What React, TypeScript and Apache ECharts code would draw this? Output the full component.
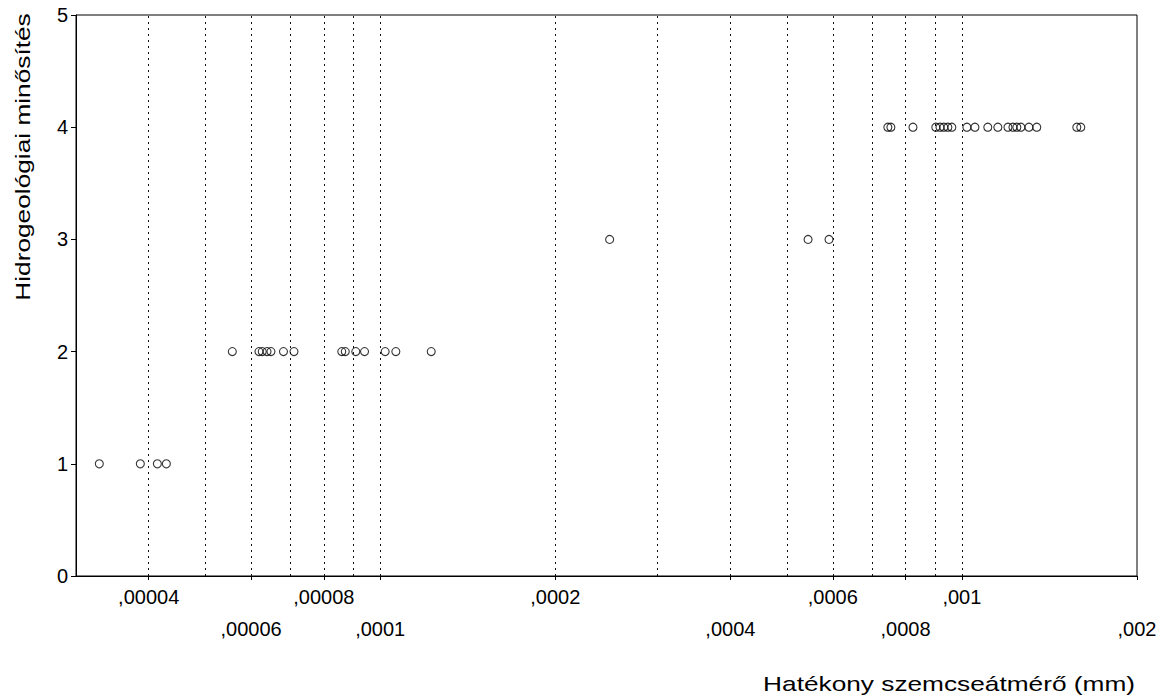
import React, { useEffect, useRef } from "react";
import * as echarts from "echarts";

const xTitle = "Hatékony szemcseátmérő (mm)";
const yTitle = "Hidrogeológiai minősítés";

// Hatékony szemcseátmérő (mm) values per rating class
const rating1 = [0.0000329, 0.0000387, 0.0000414, 0.0000429];
const rating2 = [
  0.0000557, 0.0000619, 0.0000627, 0.0000639, 0.0000649, 0.0000682, 0.0000711,
  0.0000859, 0.0000871, 0.0000908, 0.000094, 0.000102, 0.0001064, 0.0001224,
];
const rating3 = [0.000248, 0.000544, 0.000591];
const rating4 = [
  0.000746, 0.000755, 0.000824, 0.000902, 0.000917, 0.000931, 0.000946, 0.000961,
  0.00102, 0.001053, 0.001108, 0.001153, 0.0012, 0.001224, 0.001243, 0.001263,
  0.001304, 0.001345, 0.001576, 0.001601,
];

const upperTickValues = [0.00004, 0.00008, 0.0002, 0.0006, 0.001];
const upperTickLabels = [",00004", ",00008", ",0002", ",0006", ",001"];
const lowerTickValues = [0.00006, 0.0001, 0.0004, 0.0008, 0.002];
const lowerTickLabels = [",00006", ",0001", ",0004", ",0008", ",002"];
const gridLineValues = [
  0.00004, 0.00005, 0.00006, 0.00007, 0.00008, 0.00009, 0.0001,
  0.0002, 0.0003, 0.0004, 0.0005, 0.0006, 0.0007, 0.0008, 0.0009, 0.001,
];
const xMin = 0.00003;
const xMax = 0.002;
const yMin = 0;
const yMax = 5;

const FONT = "'Liberation Sans', Arial, sans-serif";

function lookup(values: number[], labels: string[], v: number): string {
  for (let i = 0; i < values.length; i++) {
    if (Math.abs(v - values[i]) / values[i] < 1e-4) return labels[i];
  }
  return "";
}

export default function App() {
  const ref = useRef<HTMLDivElement>(null);
  useEffect(() => {
    if (!ref.current) return;
    const chart = echarts.init(ref.current, undefined, { renderer: "svg" });
    const data: number[][] = [];
    rating1.forEach((v) => data.push([v, 1]));
    rating2.forEach((v) => data.push([v, 2]));
    rating3.forEach((v) => data.push([v, 3]));
    rating4.forEach((v) => data.push([v, 4]));

    const allTicks = [...upperTickValues, ...lowerTickValues].sort((a, b) => a - b);

    chart.setOption({
      animation: false,
      backgroundColor: "#fff",
      grid: {
        left: 76,
        right: 23,
        top: 15,
        bottom: 122,
        show: true,
        borderColor: "#000",
        borderWidth: 1,
        backgroundColor: "transparent",
      },
      xAxis: [
        {
          type: "log",
          logBase: 10,
          min: xMin,
          max: xMax,
          axisLine: { show: true, lineStyle: { color: "#000", width: 1 } },
          axisTick: {
            show: true,
            length: 4,
            customValues: allTicks,
            lineStyle: { color: "#000", width: 1 },
          },
          splitLine: { show: false },
          minorTick: { show: false },
          axisLabel: {
            show: true,
            customValues: upperTickValues,
            formatter: (v: number) => lookup(upperTickValues, upperTickLabels, v),
            color: "#000",
            fontSize: 20,
            fontFamily: FONT,
            margin: 11,
          },
        },
        {
          type: "log",
          logBase: 10,
          min: xMin,
          max: xMax,
          position: "bottom",
          axisLine: { show: false },
          axisTick: { show: false },
          splitLine: { show: false },
          axisLabel: {
            show: true,
            customValues: lowerTickValues,
            formatter: (v: number) => lookup(lowerTickValues, lowerTickLabels, v),
            color: "#000",
            fontSize: 20,
            fontFamily: FONT,
            margin: 43,
          },
        },
      ],
      yAxis: {
        type: "value",
        min: yMin,
        max: yMax,
        interval: 1,
        axisLine: { show: true, lineStyle: { color: "#000", width: 1 } },
        axisTick: { show: true, length: 5, lineStyle: { color: "#000", width: 1 } },
        splitLine: { show: false },
        axisLabel: { color: "#000", fontSize: 20, fontFamily: FONT, margin: 8 },
      },
      graphic: [
        {
          type: "text",
          x: 1135,
          y: 683,
          scaleX: 1.25,
          style: {
            text: xTitle,
            fill: "#000",
            fontSize: 21,
            fontFamily: FONT,
            textAlign: "right",
            textVerticalAlign: "middle",
          },
        },
        {
          type: "text",
          x: 22,
          y: 157,
          rotation: Math.PI / 2,
          scaleX: 1.25,
          style: {
            text: yTitle,
            fill: "#000",
            fontSize: 21,
            fontFamily: FONT,
            textAlign: "center",
            textVerticalAlign: "middle",
          },
        },
      ],
      series: [
        {
          type: "scatter",
          xAxisIndex: 0,
          data,
          symbol: "circle",
          symbolSize: 8,
          itemStyle: { color: "rgba(0,0,0,0)", borderColor: "#000", borderWidth: 1.1 },
          markLine: {
            silent: true,
            precision: 12,
            symbol: ["none", "none"],
            label: { show: false },
            lineStyle: { color: "#111", width: 1, type: [2, 4] },
            data: gridLineValues.map((v) => ({ xAxis: v })),
          },
        },
      ],
    });
    return () => chart.dispose();
  }, []);
  return (
    <div
      ref={ref}
      style={{ position: "fixed", left: 0, top: 0, width: 1160, height: 698, background: "#fff" }}
    />
  );
}
